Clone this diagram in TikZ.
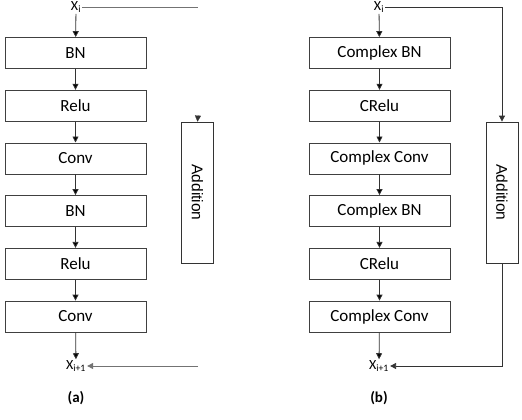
\documentclass[tikz,border=0pt]{standalone}
\usepackage{fontspec}
\setmainfont{Carlito}
\newfontfamily\addfont{Liberation Sans}
\usetikzlibrary{arrows.meta}

\tikzset{
  layer/.style={shape=rectangle, draw=black!75, line width=0.8pt, minimum width=141pt, minimum height=31pt, inner sep=0pt, font=\fontsize{17}{20}\selectfont},
  addbox/.style={shape=rectangle, draw=black!80, line width=0.8pt, minimum width=141pt, minimum height=32pt, inner sep=0pt, rotate=-90, font=\addfont\fontsize{15.5}{18}\selectfont},
  var/.style={inner sep=1pt, font=\fontsize{14}{16}\selectfont},
  tip/.style={-{Triangle[width=6pt,length=6pt]}},
  flow/.style={draw=black!80, line width=0.8pt, tip},
  skip/.style={draw=black!55, line width=0.9pt},
}

\begin{document}
\begin{tikzpicture}[x=1pt, y=-1pt]
    \useasboundingbox (0,0) rectangle (522,420);
    % (a) plain block
    \node[var] at (76,7) (XA) {X\textsubscript{i}};
    \node[layer] at (75.5,53) (A1) {BN};
    \node[layer] at (75.5,105.7) (A2) {Relu};
    \node[layer] at (75.5,158.4) (A3) {Conv};
    \node[layer] at (75.5,211) (A4) {BN};
    \node[layer] at (75.5,263.8) (A5) {Relu};
    \node[layer] at (75.5,316.5) (A6) {Conv};
    \node[var] at (76,366) (YA) {X\textsubscript{i+1}};
    \node[addbox] at (197.5,192.5) (AddA) {Addition};
    \node[font=\bfseries\fontsize{15}{18}\selectfont] at (76,398) (LA) {(a)};
    \coordinate (SA1) at (198,7);
    \coordinate (SA2) at (198,366);
    \coordinate (SA3) at (198,115);
    \path [flow] (XA) edge (A1);
    \path [flow] (A1) edge (A2);
    \path [flow] (A2) edge (A3);
    \path [flow] (A3) edge (A4);
    \path [flow] (A4) edge (A5);
    \path [flow] (A5) edge (A6);
    \path [flow] (A6) edge (YA);
    \draw[skip] (XA) -- (SA1);
    \draw[skip, tip] (SA2) -- (YA);
    \draw[flow, line width=0.1pt] (SA3) -- (AddA.west);
    % (b) complex block
    \node[var] at (379,7) (XB) {X\textsubscript{i}};
    \node[layer] at (379.5,53) (B1) {Complex BN};
    \node[layer] at (379.5,105.7) (B2) {CRelu};
    \node[layer] at (379.5,158.4) (B3) {Complex Conv};
    \node[layer] at (379.5,211) (B4) {Complex BN};
    \node[layer] at (379.5,263.8) (B5) {CRelu};
    \node[layer] at (379.5,316.5) (B6) {Complex Conv};
    \node[var] at (379,366) (YB) {X\textsubscript{i+1}};
    \node[addbox] at (502,192.5) (AddB) {Addition};
    \node[font=\bfseries\fontsize{15}{18}\selectfont] at (379,398) (LB) {(b)};
    \coordinate (SB1) at (502,7);
    \path [flow] (XB) edge (B1);
    \path [flow] (B1) edge (B2);
    \path [flow] (B2) edge (B3);
    \path [flow] (B3) edge (B4);
    \path [flow] (B4) edge (B5);
    \path [flow] (B5) edge (B6);
    \path [flow] (B6) edge (YB);
    \draw[flow] (XB) -- (SB1) -- (AddB.west);
    \draw[flow] (AddB.east) |- (YB);
\end{tikzpicture}
\end{document}
